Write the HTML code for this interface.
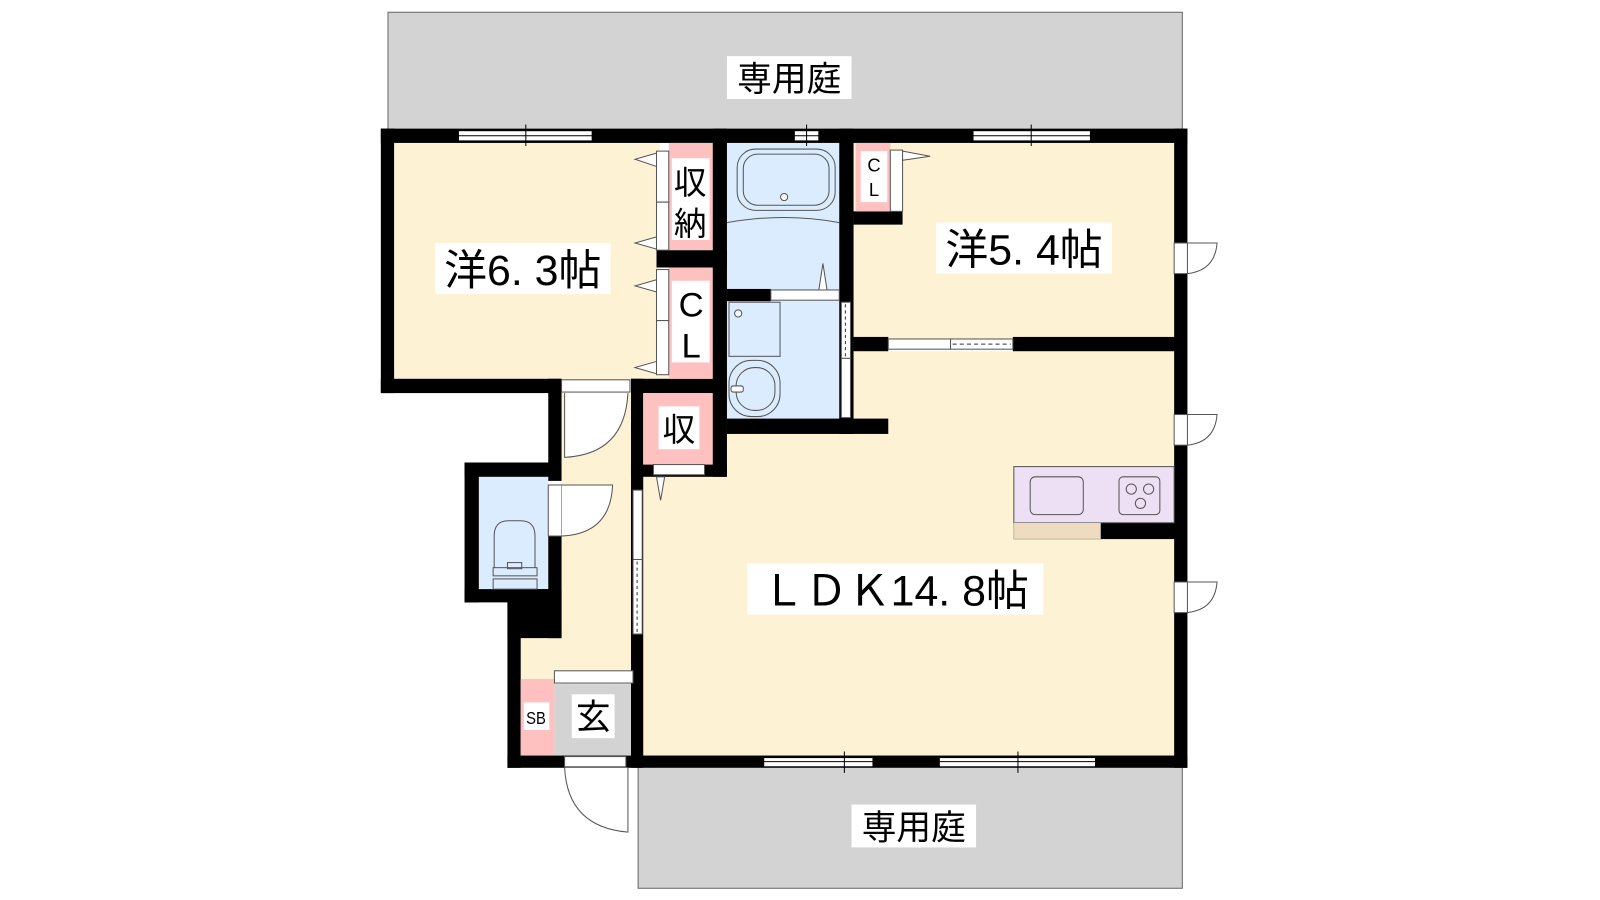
<!DOCTYPE html>
<html><head><meta charset="utf-8"><style>
html,body{margin:0;padding:0;background:#fff;}
svg{display:block;}
text{font-family:"Liberation Sans","Noto Sans CJK JP",sans-serif;}
</style></head><body>
<svg width="1600" height="900" viewBox="0 0 1600 900" xmlns="http://www.w3.org/2000/svg">
<g transform="scale(1.021)">
<!-- gardens -->
<rect x="380" y="12" width="778" height="120" fill="#d3d3d3" stroke="#666" stroke-width="1"/>
<rect x="625" y="748" width="533" height="122" fill="#d3d3d3" stroke="#666" stroke-width="1"/>
<rect x="712" y="55" width="122" height="42" fill="#fff"/>
<text x="773" y="89" font-size="34" text-anchor="middle">専用庭</text>
<rect x="834" y="788" width="122" height="42" fill="#fff"/>
<text x="895" y="822" font-size="34" text-anchor="middle">専用庭</text>

<!-- floor fills -->
<rect x="386" y="140" width="260" height="232" fill="#fef2d4"/>
<rect x="836" y="140" width="316" height="192" fill="#fef2d4"/>
<rect x="630" y="344" width="522" height="398" fill="#fef2d4"/>
<rect x="550" y="385" width="70" height="357" fill="#fef2d4"/>
<rect x="510" y="620" width="110" height="45" fill="#fef2d4"/>
<rect x="712" y="140" width="112" height="145" fill="#dbecfe"/>
<rect x="712" y="294" width="112" height="118" fill="#dbecfe"/>
<rect x="469" y="467" width="68" height="110" fill="#dbecfe"/>

<!-- walls -->
<g fill="#000">
<rect x="373" y="126" width="790" height="14"/>
<rect x="373" y="126" width="13" height="259"/>
<rect x="373" y="371" width="177" height="14"/>
<rect x="537" y="371" width="13" height="100"/>
<rect x="698" y="126" width="14" height="341"/>
<rect x="643" y="245" width="69" height="17"/>
<rect x="618" y="371" width="94" height="14"/>
<rect x="618" y="371" width="12" height="381"/>
<rect x="618" y="455" width="94" height="12"/>
<rect x="822" y="126" width="14" height="299"/>
<rect x="712" y="283" width="43" height="12"/>
<rect x="712" y="410" width="158" height="15"/>
<rect x="836" y="330" width="34" height="14"/>
<rect x="992" y="330" width="160" height="14"/>
<rect x="836" y="207" width="48" height="13"/>
<rect x="1150" y="126" width="13" height="626"/>
<rect x="1078" y="512" width="74" height="16"/>
<rect x="455" y="453" width="93" height="14"/>
<rect x="455" y="453" width="14" height="137"/>
<rect x="455" y="577" width="93" height="13"/>
<rect x="537" y="525" width="13" height="100"/>
<rect x="497" y="577" width="53" height="48"/>
<rect x="497" y="577" width="13" height="175"/>
<rect x="497" y="740" width="666" height="12"/>
</g>

<!-- windows -->
<g fill="#fff" stroke="#000" stroke-width="1">
<rect x="449" y="128" width="131" height="10"/>
<rect x="778" y="128" width="24" height="10"/>
<rect x="953" y="128" width="115" height="10"/>
<rect x="748" y="742" width="107" height="9"/>
<rect x="920" y="742" width="153" height="9"/>
</g>
<g stroke="#000" stroke-width="1">
<line x1="449" y1="133" x2="580" y2="133"/><line x1="515" y1="122" x2="515" y2="143"/>
<line x1="778" y1="133" x2="802" y2="133"/><line x1="790" y1="122" x2="790" y2="143"/>
<line x1="953" y1="133" x2="1068" y2="133"/><line x1="1010" y1="122" x2="1010" y2="143"/>
<line x1="748" y1="746" x2="855" y2="746"/><line x1="827" y1="736" x2="827" y2="757"/>
<line x1="920" y1="746" x2="1073" y2="746"/><line x1="997" y1="736" x2="997" y2="757"/>
</g>

<!-- closets 6.3 -->
<rect x="655" y="140" width="43" height="105" fill="#ffc0c0"/>
<rect x="655" y="262" width="43" height="109" fill="#ffc0c0"/>
<rect x="658" y="155" width="37" height="80" fill="#fff"/>
<rect x="658" y="275" width="37" height="80" fill="#fff"/>
<text x="676" y="190" font-size="32" text-anchor="middle">収</text>
<text x="676" y="230" font-size="32" text-anchor="middle">納</text>
<text x="677" y="310" font-size="34" text-anchor="middle">C</text>
<text x="677" y="350" font-size="34" text-anchor="middle">L</text>
<g fill="#fff" stroke="#555" stroke-width="1">
<rect x="643" y="148" width="12" height="50"/><rect x="643" y="198" width="12" height="47"/>
<rect x="643" y="264" width="12" height="50"/><rect x="643" y="314" width="12" height="53"/>
<polygon points="643,150 622,156 643,163"/><polygon points="643,232 622,238 643,244"/>
<polygon points="643,274 622,280 643,286"/><polygon points="643,354 622,360 643,366"/>
</g>

<!-- small CL -->
<rect x="838" y="140" width="34" height="67" fill="#ffc0c0"/>
<rect x="843" y="148" width="26" height="50" fill="#fff"/>
<text x="856" y="168" font-size="18" text-anchor="middle">C</text>
<text x="856" y="192" font-size="18" text-anchor="middle">L</text>
<rect x="872" y="147" width="12" height="60" fill="#fff" stroke="#555"/>
<polygon points="884,148 911,153 884,157" fill="#fff" stroke="#555"/>

<!-- bath -->
<rect x="722" y="146" width="96" height="60" rx="18" fill="none" stroke="#555"/>
<rect x="728" y="151" width="84" height="50" rx="14" fill="none" stroke="#555"/>
<circle cx="768" cy="193" r="3.5" fill="#fff" stroke="#555"/>
<path d="M712,218 Q768,208 822,218" fill="none" stroke="#555"/>
<rect x="755" y="284" width="67" height="10" fill="#fff" stroke="#555"/>
<polygon points="802,284 806,258 810,284" fill="#fff" stroke="#555"/>
<!-- wash -->
<rect x="714" y="296" width="50" height="53" fill="none" stroke="#555"/>
<circle cx="723" cy="307" r="3.5" fill="#fff" stroke="#555"/>
<rect x="714" y="353" width="50" height="55" rx="22" fill="none" stroke="#555"/>
<rect x="721" y="360" width="38" height="42" rx="18" fill="none" stroke="#555"/>
<rect x="716" y="378" width="12" height="6" rx="2" fill="#fff" stroke="#555"/>
<rect x="824" y="296" width="9" height="55" fill="#fff" stroke="#555"/>
<line x1="828" y1="298" x2="828" y2="350" stroke="#333" stroke-dasharray="3,3"/>
<rect x="824" y="351" width="9" height="58" fill="#fff" stroke="#555"/>

<!-- 5.4 / LDK door -->
<rect x="870" y="332" width="61" height="10" fill="#fff" stroke="#555"/>
<rect x="931" y="332" width="61" height="10" fill="#fff" stroke="#555"/>
<line x1="933" y1="337" x2="990" y2="337" stroke="#333" stroke-dasharray="4,3"/>

<!-- right wall doors -->
<g fill="#fff" stroke="#555">
<rect x="1150" y="238" width="13" height="30"/><path d="M1163,238 L1192,238 Q1190,265 1163,268" fill="none"/>
<rect x="1150" y="406" width="13" height="30"/><path d="M1163,406 L1192,406 Q1190,433 1163,436" fill="none"/>
<rect x="1150" y="570" width="13" height="30"/><path d="M1163,570 L1192,570 Q1190,597 1163,600" fill="none"/>
</g>

<!-- kitchen -->
<rect x="993" y="457" width="157" height="55" fill="#ede0f5" stroke="#555"/>
<rect x="993" y="512" width="85" height="16" fill="#eddcc0" stroke="#888" stroke-width="0.5"/>
<rect x="1009" y="467" width="52" height="37" rx="5" fill="none" stroke="#555"/>
<rect x="1096" y="467" width="40" height="37" rx="4" fill="none" stroke="#555"/>
<circle cx="1108" cy="479" r="5" fill="none" stroke="#555"/>
<circle cx="1125" cy="479" r="5" fill="none" stroke="#555"/>
<circle cx="1117" cy="493" r="5" fill="none" stroke="#555"/>

<!-- 収 -->
<rect x="630" y="385" width="68" height="70" fill="#ffc0c0"/>
<rect x="645" y="398" width="40" height="42" fill="#fff"/>
<text x="665" y="432" font-size="32" text-anchor="middle">収</text>
<rect x="640" y="455" width="50" height="10" fill="#fff" stroke="#555"/>
<polygon points="643,467 647,490 651,467" fill="#fff" stroke="#555"/>

<!-- hall door top -->
<rect x="550" y="372" width="67" height="12" fill="#fff" stroke="#555"/>
<path d="M553,385 L553,448 Q612,445 615,385" fill="#fff" stroke="#555"/>
<!-- toilet door -->
<rect x="537" y="475" width="13" height="50" fill="#fff" stroke="#555"/>
<path d="M550,475 L600,475 Q598,523 550,525" fill="#fff" stroke="#555"/>
<!-- toilet -->
<path d="M484,556 L484,525 Q484,510 498,510 L510,510 Q524,510 524,525 L524,556" fill="none" stroke="#555"/>
<rect x="483" y="556" width="43" height="8" fill="none" stroke="#555"/>
<rect x="497" y="551" width="14" height="6" fill="none" stroke="#555"/>
<rect x="483" y="567" width="43" height="10" fill="none" stroke="#555"/>
<!-- sliding door hall/LDK -->
<rect x="620" y="480" width="9" height="68" fill="#fff" stroke="#555"/>
<rect x="620" y="548" width="9" height="73" fill="#fff" stroke="#555"/>
<line x1="624" y1="550" x2="624" y2="619" stroke="#333" stroke-dasharray="3,3"/>

<!-- entrance -->
<rect x="510" y="665" width="33" height="75" fill="#ffc0c0"/>
<rect x="543" y="670" width="75" height="70" fill="#d3d3d3"/>
<rect x="543" y="657" width="77" height="12" fill="#fff" stroke="#555"/>
<rect x="513" y="688" width="25" height="27" fill="#fff"/>
<text x="525" y="709" font-size="17" text-anchor="middle" transform="translate(525 0) scale(0.85 1) translate(-525 0)">SB</text>
<rect x="560" y="680" width="42" height="43" fill="#fff"/>
<text x="581" y="714" font-size="34" text-anchor="middle">玄</text>
<rect x="553" y="741" width="60" height="10" fill="#fff" stroke="#555"/>
<path d="M553,752 Q556,810 615,815 L615,752" fill="#fff" stroke="#555"/>

<!-- room labels -->
<rect x="426" y="238" width="172" height="50" fill="#fff"/>
<text x="512" y="279" font-size="42" text-anchor="middle">洋6. 3帖</text>
<rect x="917" y="218" width="172" height="50" fill="#fff"/>
<text x="1003" y="259" font-size="42" text-anchor="middle">洋5. 4帖</text>
<rect x="732" y="552" width="290" height="50" fill="#fff"/>
<text x="877" y="593" font-size="42" text-anchor="middle">ＬＤＫ14. 8帖</text>
</g>
</svg>
</body></html>
